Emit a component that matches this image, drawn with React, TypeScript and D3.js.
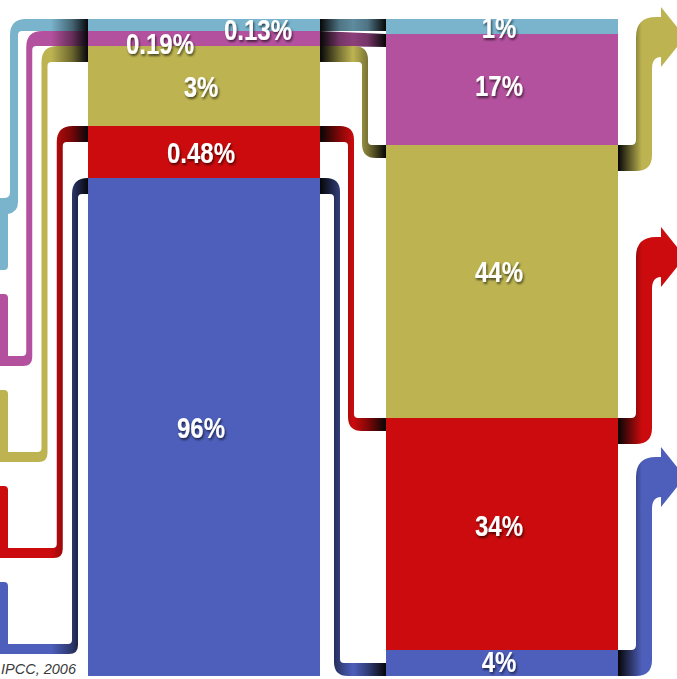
import React from "react";
import * as d3 from "d3";

// ---- data ----
const series = ["lightblue", "magenta", "olive", "red", "blue"];
const seriesColors = ["#79b3cc", "#b4519e", "#bdb451", "#cb0b0d", "#4d5fbb"];
const leftValues = [0.13, 0.19, 3, 0.48, 96];
const rightValues = [1, 17, 44, 34, 4];
const leftLabels = ["0.13%", "0.19%", "3%", "0.48%", "96%"];
const rightLabels = ["1%", "17%", "44%", "34%", "4%"];
const columns = ["left", "right"];
const sourceText = "IPCC, 2006";

const W = 677;
const H = 679;

export default function App() {
  const top = 19;
  // the original figure's bands are not drawn proportionally: piecewise display scales
  const leftH = d3.scaleLinear().domain([0, 0.13, 0.19, 0.48, 3, 96]).range([0, 12, 15, 52, 80, 498]);
  const rightH = d3.scaleLinear().domain([0, 1, 4, 17, 34, 44]).range([0, 15, 26, 111, 232, 273]);

  const xCol = d3.scaleBand<string>().domain(columns).range([88, 618]).paddingInner(0.2215);
  const bw = xCol.bandwidth();
  const lx0 = xCol("left")!;
  const lx1 = lx0 + bw;
  const rx0 = xCol("right")!;
  const rx1 = rx0 + bw;

  const stack = (vals: number[], hs: (v: number) => number) => {
    let y = top;
    return vals.map((v) => {
      const h = hs(v);
      const b = { y0: y, y1: y + h, h };
      y += h;
      return b;
    });
  };
  const lb = stack(leftValues, leftH);
  const rb = stack(rightValues, rightH);

  // lanes
  const laneL = d3.scalePoint<string>().domain(series).range([14, 75]);
  const stubY = d3.scalePoint<string>().domain(series).range([198, 582]);
  const laneM = d3.scalePoint<string>().domain(["blue", "red", "olive"]).range([337, 365]);
  const arrowY = d3.scalePoint<string>().domain(["olive", "red", "blue"]).range([17, 457]);

  const pipeT = (h: number) => Math.min(h, 16);

  // ---- left pipes ----
  const leftPaths = series.map((s, i) => {
    const lx = laneL(s)!;
    const w = i === 0 ? 8 : 6;
    const a = lx - w / 2;
    const b = lx + w / 2;
    const eTop = lb[i].y0;
    const eBot = eTop + pipeT(lb[i].h);
    const sTop = stubY(s)!;
    const sBot = sTop + 72;
    const sx = 8;
    const ro = 16;
    const ri = 4;
    if (i === 0) {
      return [
        `M -20 ${sTop}`,
        `L ${a - 6} ${sTop} Q ${a} ${sTop} ${a} ${sTop - 6}`,
        `L ${a} ${eTop + ro} Q ${a} ${eTop} ${a + ro} ${eTop}`,
        `L ${lx0} ${eTop} L ${lx0} ${eBot}`,
        `L ${b + ri} ${eBot} Q ${b} ${eBot} ${b} ${eBot + ri}`,
        `L ${b} ${sTop + 4} Q ${b} ${sTop + 14} ${sx} ${sTop + 16}`,
        `L ${sx} ${sBot - 4} Q ${sx} ${sBot} ${sx - 4} ${sBot}`,
        `L -20 ${sBot} Z`,
      ].join(" ");
    }
    return [
      `M -20 ${sTop}`,
      `L ${sx - 4} ${sTop} Q ${sx} ${sTop} ${sx} ${sTop + 4}`,
      `L ${sx} ${sBot - 10}`,
      `L ${a - ri} ${sBot - 10} Q ${a} ${sBot - 10} ${a} ${sBot - 10 - ri}`,
      `L ${a} ${eTop + ro} Q ${a} ${eTop} ${a + ro} ${eTop}`,
      `L ${lx0} ${eTop} L ${lx0} ${eBot}`,
      `L ${b + ri} ${eBot} Q ${b} ${eBot} ${b} ${eBot + ri}`,
      `L ${b} ${sBot - 9} Q ${b} ${sBot} ${b - 9} ${sBot}`,
      `L -20 ${sBot} Z`,
    ].join(" ");
  });

  // ---- middle pipes ----
  const midPaths = series.map((s, i) => {
    const lTop = lb[i].y0;
    const lBot = lTop + pipeT(lb[i].h);
    if (i < 2) {
      const rTop = i === 0 ? lTop : rb[i].y0;
      const rBot = i === 0 ? lBot : Math.min(rTop + 13, rb[i].y1);
      return `M ${lx1} ${lTop} L ${rx0} ${rTop} L ${rx0} ${rBot} L ${lx1} ${lBot} Z`;
    }
    const t = 13;
    const last = i === series.length - 1;
    const rTop = last ? rb[i].y1 - t : rb[i].y0;
    const rBot = rTop + t;
    const m = laneM(s)!;
    const mL = m - 3;
    const mR = m + 3;
    const ro = 14;
    const ri = 4;
    return [
      `M ${lx1} ${lTop}`,
      `L ${mR - ro} ${lTop} Q ${mR} ${lTop} ${mR} ${lTop + ro}`,
      `L ${mR} ${rTop - ri} Q ${mR} ${rTop} ${mR + ri} ${rTop}`,
      `L ${rx0} ${rTop} L ${rx0} ${rBot}`,
      `L ${mL + ro} ${rBot} Q ${mL} ${rBot} ${mL} ${rBot - ro}`,
      `L ${mL} ${lBot + ri} Q ${mL} ${lBot} ${mL - ri} ${lBot}`,
      `L ${lx1} ${lBot} Z`,
    ].join(" ");
  });

  // ---- right exits + arrows ----
  const rightPaths = series.map((s, i) => {
    if (i < 2) return null;
    const eTop = rb[i].y0;
    const eBot = Math.min(eTop + 26, rb[i].y1);
    const x0 = 636;
    const x1 = 652;
    const yT = arrowY(s)!;
    const hx = 661;
    return [
      `M ${rx1} ${eTop}`,
      `L ${x0 - 5} ${eTop} Q ${x0} ${eTop} ${x0} ${eTop - 5}`,
      `L ${x0} ${yT + 20} Q ${x0} ${yT} ${x0 + 20} ${yT}`,
      `L ${hx} ${yT} L ${hx} ${yT - 10} L ${hx + 24} ${yT + 20} L ${hx} ${yT + 50} L ${hx} ${yT + 40}`,
      `Q ${x1} ${yT + 40} ${x1} ${yT + 52}`,
      `L ${x1} ${eBot - 16} Q ${x1} ${eBot} ${x1 - 16} ${eBot}`,
      `L ${rx1} ${eBot} Z`,
    ].join(" ");
  });

  const dark = (c: string, k: number) => d3.color(c)!.darker(k).formatHex();

  const labelFont = {
    fontFamily: "'Liberation Sans', Arial, sans-serif",
    fontWeight: 700,
    fontSize: 30,
    fill: "#ffffff",
  } as const;

  const lcx = lx0 + bw / 2 - 3;
  const rcx = rx0 + bw / 2 - 3;
  const leftDx = [57, -41, 0, 0, 0];
  const leftDy = [15, 15, 11, 11, 11];

  return (
    <svg width={W} height={H} style={{ position: "absolute", left: 0, top: 0, background: "#fff" }}>
      <defs>
        {series.map((s, i) => (
          <React.Fragment key={s}>
            <linearGradient id={`gl-${i}`} gradientUnits="userSpaceOnUse" x1={0} x2={lx0} y1={0} y2={0}>
              <stop offset={0} stopColor={seriesColors[i]} />
              <stop offset={0.58} stopColor={seriesColors[i]} />
              <stop offset={0.82} stopColor={dark(seriesColors[i], 1.6)} />
              <stop offset={1} stopColor="#07070c" />
            </linearGradient>
            <linearGradient id={`gm-${i}`} gradientUnits="userSpaceOnUse" x1={lx1} x2={rx0} y1={0} y2={0}>
              <stop offset={0} stopColor="#060606" />
              <stop offset={0.3} stopColor={dark(seriesColors[i], 1.2)} />
              <stop offset={0.5} stopColor={i < 2 ? dark(seriesColors[i], 0.7) : seriesColors[i]} />
              <stop offset={0.72} stopColor={dark(seriesColors[i], 1.2)} />
              <stop offset={1} stopColor="#060606" />
            </linearGradient>
            <linearGradient id={`gr-${i}`} gradientUnits="userSpaceOnUse" x1={rx1} x2={rx1 + 24} y1={0} y2={0}>
              <stop offset={0} stopColor="#060606" />
              <stop offset={1} stopColor={seriesColors[i]} />
            </linearGradient>
          </React.Fragment>
        ))}
        <filter id="ts" x="-20%" y="-30%" width="150%" height="170%">
          <feDropShadow dx={1.5} dy={2} stdDeviation={1.3} floodColor="#000" floodOpacity={0.6} />
        </filter>
        <clipPath id="colclip">
          <rect x={lx0} y={top} width={bw} height={H - top} />
          <rect x={rx0} y={top} width={bw} height={H - top} />
        </clipPath>
      </defs>

      {/* pipes */}
      {leftPaths.map((d, i) => (
        <path key={`l${i}`} d={d} fill={`url(#gl-${i})`} />
      ))}
      {midPaths.map((d, i) => (
        <path key={`m${i}`} d={d} fill={`url(#gm-${i})`} />
      ))}
      {rightPaths.map((d, i) => (d ? <path key={`r${i}`} d={d} fill={`url(#gr-${i})`} /> : null))}

      {/* columns */}
      {lb.map((b, i) => (
        <rect key={`lb${i}`} x={lx0} y={b.y0} width={bw} height={b.h} fill={seriesColors[i]} />
      ))}
      {rb.map((b, i) => (
        <rect key={`rb${i}`} x={rx0} y={b.y0} width={bw} height={b.h} fill={seriesColors[i]} />
      ))}

      {/* labels */}
      <g clipPath="url(#colclip)">
        {lb.map((b, i) => (
          <text
            key={`ll${i}`}
            transform={`translate(${lcx + leftDx[i]},${(b.y0 + b.y1) / 2 + leftDy[i]}) scale(0.8,1)`}
            textAnchor="middle"
            filter="url(#ts)"
            {...labelFont}
          >
            {leftLabels[i]}
          </text>
        ))}
        {rb.map((b, i) => {
          const cy = b.h > 60 ? b.y0 + b.h * 0.46 : (b.y0 + b.y1) / 2 - (i === rb.length - 1 ? 2 : 0);
          return (
            <text
              key={`rl${i}`}
              transform={`translate(${rcx},${cy + 11}) scale(0.8,1)`}
              textAnchor="middle"
              filter="url(#ts)"
              {...labelFont}
            >
              {rightLabels[i]}
            </text>
          );
        })}
      </g>

      <text
        x={1}
        y={674}
        textAnchor="start"
        fontFamily="'Liberation Sans', Arial, sans-serif"
        fontStyle="italic"
        fontSize={14.5}
        fill="#3a3a3a"
      >
        {sourceText}
      </text>
    </svg>
  );
}
